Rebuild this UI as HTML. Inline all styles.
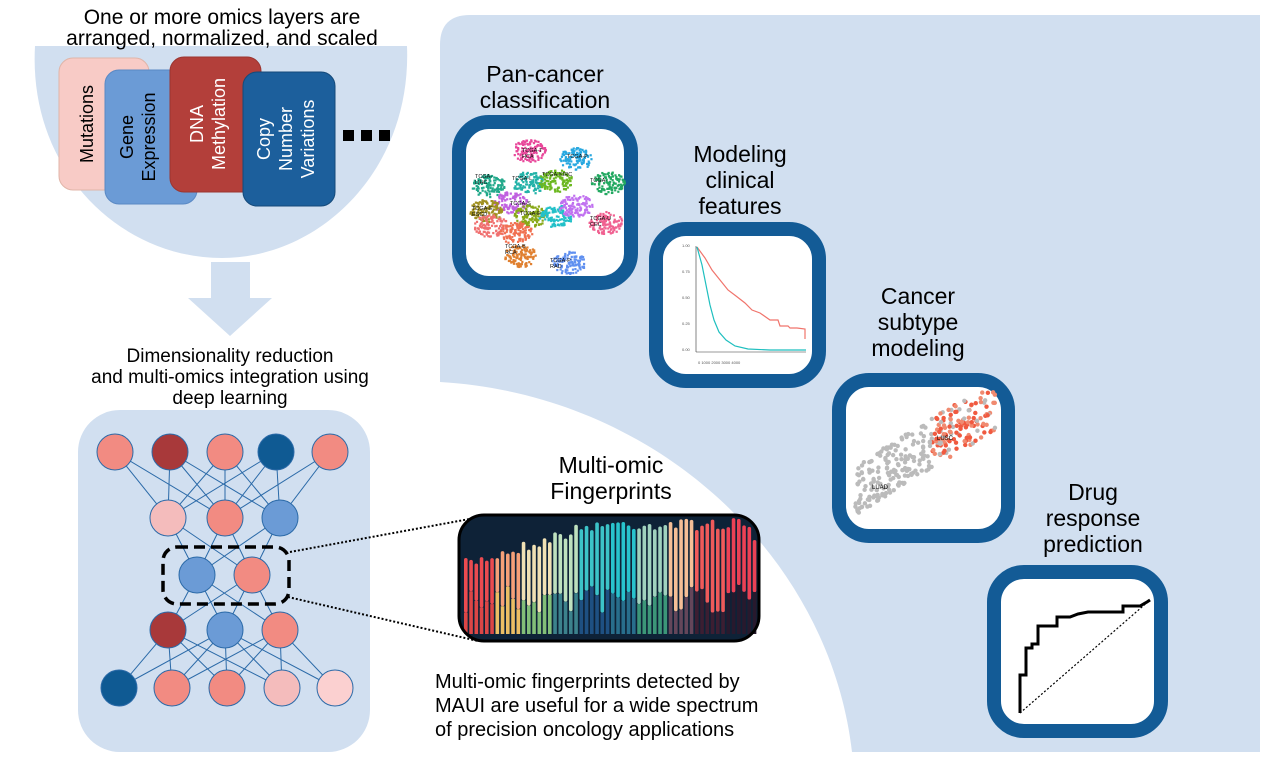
<!DOCTYPE html>
<html><head><meta charset="utf-8"><style>
html,body{margin:0;padding:0;background:#fff;width:1280px;height:768px;overflow:hidden}
svg{display:block}
text{font-family:"Liberation Sans",sans-serif}
</style></head><body>
<svg id="s" width="1280" height="768" viewBox="0 0 1280 768" xmlns="http://www.w3.org/2000/svg">
<path d="M470,15 L1260,15 L1260,752 L852,752 C830,560 660,395 440,382 L440,45 Q440,15 470,15 Z" fill="#d1dff0"/>
<path d="M35,46 L407,46 C412,170 320,258 222,258 C120,258 28,170 35,46 Z" fill="#d1dff0"/>
<path d="M211,262 L250,262 L250,298 L272,298 L230,336 L188,298 L211,298 Z" fill="#d1dff0"/>
<rect x="78" y="410" width="292" height="342" rx="42" fill="#d1dff0"/>
<text x="222" y="24" font-size="21" text-anchor="middle">One or more omics layers are</text>
<text x="222" y="45" font-size="21" text-anchor="middle">arranged, normalized, and scaled</text>
<text x="230" y="362" font-size="19" text-anchor="middle">Dimensionality reduction</text>
<text x="230" y="383" font-size="19" text-anchor="middle">and multi-omics integration using</text>
<text x="230" y="404" font-size="19" text-anchor="middle">deep learning</text>
<rect x="59" y="58" width="90" height="132" rx="14" fill="#f8cbc6" stroke="#e0b5a8"/>
<text transform="translate(88,124) rotate(-90)" font-size="18" text-anchor="middle" dominant-baseline="middle">Mutations</text>
<rect x="105" y="70" width="92" height="134" rx="14" fill="#6b9bd6" stroke="#5a89c4"/>
<text transform="translate(128,137) rotate(-90)" font-size="18" text-anchor="middle" dominant-baseline="middle">Gene</text>
<text transform="translate(150,137) rotate(-90)" font-size="18" text-anchor="middle" dominant-baseline="middle">Expression</text>
<rect x="170" y="57" width="91" height="135" rx="14" fill="#b33f3a" stroke="#9b3530"/>
<text transform="translate(198,124) rotate(-90)" font-size="18" fill="#fff" text-anchor="middle" dominant-baseline="middle">DNA</text>
<text transform="translate(220,124) rotate(-90)" font-size="18" fill="#fff" text-anchor="middle" dominant-baseline="middle">Methylation</text>
<rect x="243" y="72" width="92" height="134" rx="14" fill="#1c5f9c" stroke="#154a7a"/>
<text transform="translate(265,139) rotate(-90)" font-size="18" fill="#fff" text-anchor="middle" dominant-baseline="middle">Copy</text>
<text transform="translate(287,139) rotate(-90)" font-size="18" fill="#fff" text-anchor="middle" dominant-baseline="middle">Number</text>
<text transform="translate(309,139) rotate(-90)" font-size="18" fill="#fff" text-anchor="middle" dominant-baseline="middle">Variations</text>
<rect x="343" y="130" width="11" height="11" fill="#000"/><rect x="361" y="130" width="11" height="11" fill="#000"/><rect x="379" y="130" width="11" height="11" fill="#000"/>
<g id="edges" stroke="#2b6aa8" stroke-width="1"></g>
<g id="nodes"></g>
<rect x="163" y="547" width="126" height="57" rx="14" fill="none" stroke="#000" stroke-width="3.5" stroke-dasharray="11,6"/>
<line x1="290" y1="552" x2="475" y2="518" stroke="#000" stroke-width="2" stroke-dasharray="2,2"/>
<line x1="288" y1="597" x2="478" y2="641" stroke="#000" stroke-width="2" stroke-dasharray="2,2"/>
<text x="611" y="473" font-size="23" text-anchor="middle">Multi-omic</text>
<text x="611" y="499" font-size="23" text-anchor="middle">Fingerprints</text>
<rect x="459" y="515" width="300" height="126" rx="25" fill="#0e2237"/>
<g id="fp"></g>
<rect x="459" y="515" width="300" height="126" rx="25" fill="none" stroke="#000" stroke-width="3"/>
<text x="435" y="688" font-size="20">Multi-omic fingerprints detected by</text>
<text x="435" y="712" font-size="20">MAUI are useful for a wide spectrum</text>
<text x="435" y="736" font-size="20">of precision oncology applications</text>
<g font-size="23" text-anchor="middle">
<text x="545" y="82">Pan-cancer</text><text x="545" y="108">classification</text>
<text x="740" y="162">Modeling</text><text x="740" y="188">clinical</text><text x="740" y="214">features</text>
<text x="918" y="304">Cancer</text><text x="918" y="330">subtype</text><text x="918" y="356">modeling</text>
<text x="1093" y="500">Drug</text><text x="1093" y="526">response</text><text x="1093" y="552">prediction</text>
</g>
<g fill="#fff" stroke="#135b96" stroke-width="14">
<rect x="459" y="122" width="172" height="161" rx="30"/>
<rect x="656" y="229" width="163" height="152" rx="30"/>
<rect x="839" y="380" width="169" height="156" rx="30"/>
<rect x="994" y="572" width="167" height="159" rx="30"/>
</g>
<g id="c1"></g>
<g stroke-width="1.2" fill="none">
<line x1="696" y1="246" x2="696" y2="352" stroke="#333" stroke-width="0.6"/>
<line x1="696" y1="352" x2="806" y2="352" stroke="#333" stroke-width="0.6"/>
<path d="M697,247 L705,258 L712,270 L720,280 L728,290 L736,296 L745,303 L752,310 L760,313 L770,320 L778,320 L780,326 L788,326 L790,328 L797,328 L805,329 L805,339" stroke="#f0746c"/>
<path d="M697,247 L702,265 L706,285 L710,305 L714,320 L719,332 L726,340 L735,346 L748,349 L770,350 L806,350" stroke="#1fbfbf"/>
</g>
<g font-size="4" fill="#555"><text x="682" y="247">1.00</text><text x="682" y="273">0.75</text><text x="682" y="299">0.50</text><text x="682" y="325">0.25</text><text x="682" y="351">0.00</text><text x="698" y="364">0 1000 2000 3000 4000</text></g>
<g id="c3"></g>
<text x="937" y="440" font-size="6">LUSC</text><text x="872" y="489" font-size="6">LUAD</text>
<path d="M1020,713 L1020,675 L1026,675 L1026,648 L1032,648 L1032,644 L1038,644 L1038,626 L1057,626 L1057,617 L1070,617 L1078,614 L1088,612 L1123,612 L1123,606 L1140,606 L1147,602 L1150,600" fill="none" stroke="#000" stroke-width="3"/>
<line x1="1020" y1="713" x2="1150" y2="600" stroke="#000" stroke-width="1.2" stroke-dasharray="2,2"/>
</svg>
<script>
(function(){
var NS="http://www.w3.org/2000/svg";
function el(p,t,a){var e=document.createElementNS(NS,t);for(var k in a)e.setAttribute(k,a[k]);p.appendChild(e);return e;}
var seed=7;function r(){seed=(seed*16807)%2147483647;return seed/2147483647;}
var rows=[
[[115,452,"#f28b82"],[170,452,"#a8393a"],[225,452,"#f28b82"],[276,452,"#0f5a93"],[330,452,"#f28b82"]],
[[168,518,"#f4bcbc"],[225,518,"#f28b82"],[280,518,"#6b9bd6"]],
[[197,575,"#6b9bd6"],[252,575,"#f28b82"]],
[[168,630,"#a8393a"],[225,630,"#6b9bd6"],[280,630,"#f28b82"]],
[[119,688,"#0f5a93"],[172,688,"#f28b82"],[227,688,"#f28b82"],[282,688,"#f4bcbc"],[335,688,"#fbd0d0"]]];
var E=document.getElementById("edges"),N=document.getElementById("nodes");
for(var ri=0;ri<rows.length-1;ri++){var A=rows[ri],B=rows[ri+1];for(var a=0;a<A.length;a++)for(var b=0;b<B.length;b++){if(Math.abs(A[a][0]-B[b][0])<115)el(E,"line",{x1:A[a][0],y1:A[a][1],x2:B[b][0],y2:B[b][1]});}}
for(var ri=0;ri<rows.length;ri++)for(var a=0;a<rows[ri].length;a++){var n=rows[ri][a];el(N,"circle",{cx:n[0],cy:n[1],r:18,fill:n[2],stroke:"#2b6aa8","stroke-width":1});}
var fp=document.getElementById("fp");
var C=[[235,75,80],[245,160,120],[240,225,180],[190,225,190],[60,195,200],[40,195,205],[160,210,190],[245,190,150],[240,90,90],[235,65,85]];
var B2=[[220,70,70],[235,190,100],[130,190,120],[60,130,140],[30,80,130],[40,110,140],[60,150,120],[100,70,90],[60,30,50],[40,25,45]];
function rgb(c){return "rgb("+c[0]+","+c[1]+","+c[2]+")";}
for(var k=0;k<56;k++){
  var x=464+k*5.25,t=k/55,ci=Math.min(9,Math.floor(t*10));
  var ty=518+Math.max(0,0.45-t)/0.45*40+r()*12;
  var my=585+r()*30;
  if(x<470||x>750){ty=Math.max(ty,540);}
  el(fp,"rect",{x:x,y:ty,width:3.6,height:my-ty,rx:1.8,fill:rgb(C[ci])});
  el(fp,"rect",{x:x,y:my,width:3.6,height:634-my,fill:rgb(B2[ci])});
}
var c1=document.getElementById("c1");
var cl=[[528,150,"#e8479a"],[575,158,"#28a8e0"],[488,185,"#22a88a"],[528,182,"#22b2a8"],[555,180,"#6cb820"],[607,182,"#22a860"],[510,202,"#c060e0"],[485,210,"#a09020"],[530,215,"#88a818"],[555,215,"#22c0c8"],[490,225,"#f07070"],[515,232,"#f07050"],[605,222,"#f06090"],[520,255,"#e08030"],[568,262,"#6090f0"],[575,205,"#c070f0"]];
for(var q=0;q<cl.length;q++){var c=cl[q];for(var k=0;k<110;k++){var an=r()*6.28,d=Math.sqrt(r())*14;el(c1,"rect",{x:c[0]+Math.cos(an)*d*1.2,y:c[1]+Math.sin(an)*d*0.8,width:2.2,height:2.2,fill:c[2]});}}
var lbl=[["TCGA-T",522,152],["HCA",522,158],["TCGA-P",567,158],["TCGA-KIRC",542,176],["TCGA-",475,178],["LIHC",475,184],["TCGA-L",512,180],["TCGA-",590,182],["TCGA-S",510,205],["TCGA-E",472,210],["ESCD",472,216],["TCGA-E",520,215],["TCGA-U",590,220],["CEC",590,226],["TCGA-B",505,248],["RCA",505,254],["TCGA-P",550,262],["RAD",550,268]];
for(var q=0;q<lbl.length;q++){var tt=el(c1,"text",{x:lbl[q][1],y:lbl[q][2],"font-size":5.5,fill:"#111"});tt.textContent=lbl[q][0];}
var c3=document.getElementById("c3");
for(var k=0;k<320;k++){var u=r(),v=r()-0.5;var x=855+u*140,y=490-u*85+v*50;if(y<392||y>525||x>995)continue;
var red=u>0.55&&r()<0.8;el(c3,"circle",{cx:x,cy:y,r:2.2,fill:red?(r()<0.5?"#f05a40":"#f08a70"):"#bbbbbb"});}
})();
</script>
</body></html>
